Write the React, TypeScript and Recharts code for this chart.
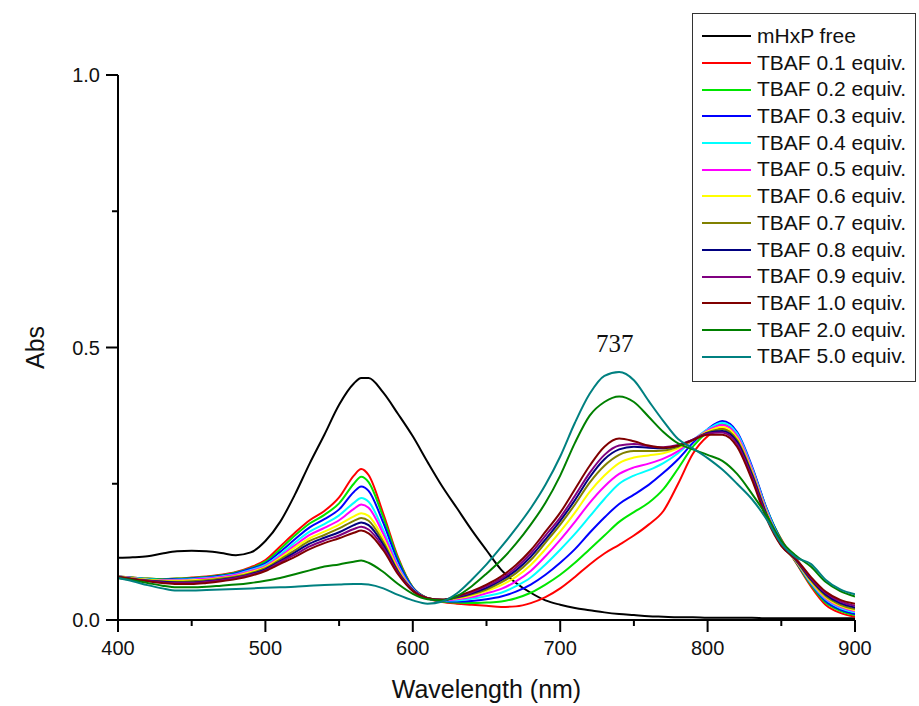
import React from 'react';
import { LineChart, Line, XAxis, YAxis, Legend, ReferenceDot } from 'recharts';

const wavelengths = [400, 410, 420, 430, 440, 450, 460, 470, 480, 490, 500, 510, 520, 530, 540, 550, 560, 565, 570, 580, 590, 600, 610, 620, 630, 640, 650, 660, 670, 680, 690, 700, 710, 720, 730, 740, 750, 760, 770, 780, 790, 800, 810, 820, 830, 840, 850, 860, 870, 880, 890, 900];

const mHxPFree = [0.114, 0.115, 0.117, 0.122, 0.126, 0.127, 0.126, 0.123, 0.119, 0.124, 0.145, 0.180, 0.230, 0.287, 0.340, 0.395, 0.434, 0.444, 0.444, 0.417, 0.378, 0.337, 0.290, 0.245, 0.205, 0.165, 0.128, 0.092, 0.068, 0.050, 0.036, 0.028, 0.022, 0.018, 0.014, 0.011, 0.009, 0.007, 0.006, 0.005, 0.005, 0.004, 0.004, 0.004, 0.004, 0.003, 0.003, 0.003, 0.003, 0.003, 0.003, 0.003];
const tbaf01 = [0.080, 0.078, 0.076, 0.075, 0.076, 0.078, 0.080, 0.083, 0.088, 0.097, 0.110, 0.135, 0.160, 0.183, 0.200, 0.225, 0.265, 0.277, 0.266, 0.195, 0.115, 0.060, 0.040, 0.033, 0.030, 0.028, 0.026, 0.024, 0.025, 0.031, 0.042, 0.058, 0.079, 0.102, 0.122, 0.138, 0.155, 0.175, 0.200, 0.250, 0.305, 0.337, 0.352, 0.335, 0.275, 0.200, 0.148, 0.105, 0.062, 0.028, 0.013, 0.006];
const tbaf02 = [0.080, 0.078, 0.076, 0.075, 0.076, 0.077, 0.079, 0.082, 0.087, 0.095, 0.107, 0.130, 0.155, 0.177, 0.193, 0.214, 0.250, 0.263, 0.253, 0.188, 0.112, 0.060, 0.040, 0.034, 0.032, 0.031, 0.032, 0.034, 0.040, 0.050, 0.065, 0.083, 0.105, 0.130, 0.155, 0.180, 0.198, 0.215, 0.240, 0.278, 0.318, 0.345, 0.360, 0.340, 0.280, 0.205, 0.147, 0.106, 0.065, 0.032, 0.017, 0.009];
const tbaf03 = [0.080, 0.077, 0.075, 0.074, 0.075, 0.076, 0.078, 0.081, 0.086, 0.094, 0.104, 0.125, 0.148, 0.170, 0.185, 0.203, 0.235, 0.245, 0.237, 0.178, 0.107, 0.059, 0.040, 0.035, 0.034, 0.035, 0.038, 0.043, 0.052, 0.065, 0.083, 0.105, 0.130, 0.160, 0.188, 0.213, 0.230, 0.248, 0.270, 0.295, 0.325, 0.350, 0.365, 0.345, 0.283, 0.205, 0.145, 0.107, 0.067, 0.035, 0.019, 0.011];
const tbaf04 = [0.080, 0.077, 0.075, 0.073, 0.074, 0.075, 0.077, 0.080, 0.084, 0.092, 0.101, 0.120, 0.142, 0.162, 0.176, 0.192, 0.215, 0.224, 0.217, 0.165, 0.100, 0.057, 0.040, 0.036, 0.036, 0.039, 0.044, 0.050, 0.062, 0.078, 0.102, 0.129, 0.158, 0.190, 0.222, 0.250, 0.265, 0.275, 0.288, 0.306, 0.330, 0.350, 0.362, 0.342, 0.280, 0.203, 0.143, 0.108, 0.068, 0.038, 0.022, 0.014];
const tbaf05 = [0.080, 0.077, 0.074, 0.073, 0.073, 0.074, 0.076, 0.079, 0.083, 0.090, 0.099, 0.117, 0.137, 0.156, 0.169, 0.183, 0.204, 0.212, 0.206, 0.158, 0.097, 0.056, 0.040, 0.036, 0.038, 0.042, 0.049, 0.057, 0.071, 0.090, 0.117, 0.147, 0.180, 0.215, 0.245, 0.268, 0.280, 0.287, 0.296, 0.310, 0.330, 0.348, 0.358, 0.338, 0.277, 0.200, 0.142, 0.108, 0.070, 0.040, 0.024, 0.016];
const tbaf06 = [0.080, 0.076, 0.074, 0.072, 0.072, 0.073, 0.074, 0.077, 0.081, 0.088, 0.097, 0.114, 0.133, 0.150, 0.162, 0.175, 0.190, 0.196, 0.191, 0.149, 0.093, 0.055, 0.040, 0.037, 0.040, 0.045, 0.053, 0.064, 0.079, 0.101, 0.130, 0.162, 0.197, 0.235, 0.265, 0.288, 0.298, 0.302, 0.306, 0.315, 0.330, 0.346, 0.354, 0.334, 0.273, 0.197, 0.140, 0.108, 0.071, 0.042, 0.026, 0.018];
const tbaf07 = [0.080, 0.076, 0.073, 0.071, 0.070, 0.071, 0.073, 0.076, 0.080, 0.086, 0.095, 0.111, 0.128, 0.145, 0.156, 0.168, 0.182, 0.187, 0.182, 0.143, 0.090, 0.055, 0.040, 0.037, 0.041, 0.047, 0.056, 0.069, 0.086, 0.110, 0.142, 0.175, 0.212, 0.252, 0.283, 0.303, 0.310, 0.310, 0.311, 0.318, 0.330, 0.344, 0.350, 0.330, 0.270, 0.195, 0.139, 0.109, 0.073, 0.044, 0.028, 0.020];
const tbaf08 = [0.079, 0.075, 0.072, 0.070, 0.069, 0.069, 0.071, 0.074, 0.078, 0.084, 0.093, 0.108, 0.124, 0.140, 0.151, 0.161, 0.174, 0.179, 0.174, 0.138, 0.088, 0.055, 0.040, 0.037, 0.042, 0.049, 0.059, 0.073, 0.091, 0.116, 0.148, 0.182, 0.220, 0.262, 0.295, 0.313, 0.318, 0.316, 0.315, 0.320, 0.331, 0.343, 0.347, 0.327, 0.267, 0.193, 0.138, 0.110, 0.075, 0.047, 0.031, 0.023];
const tbaf09 = [0.079, 0.075, 0.072, 0.069, 0.068, 0.068, 0.070, 0.073, 0.077, 0.083, 0.091, 0.106, 0.120, 0.135, 0.146, 0.155, 0.167, 0.171, 0.166, 0.133, 0.086, 0.054, 0.040, 0.037, 0.043, 0.051, 0.062, 0.076, 0.096, 0.122, 0.155, 0.188, 0.228, 0.270, 0.303, 0.320, 0.323, 0.319, 0.317, 0.321, 0.331, 0.342, 0.344, 0.323, 0.263, 0.190, 0.137, 0.111, 0.077, 0.050, 0.034, 0.026];
const tbaf10 = [0.079, 0.075, 0.071, 0.068, 0.066, 0.066, 0.068, 0.071, 0.075, 0.081, 0.090, 0.103, 0.116, 0.130, 0.141, 0.150, 0.160, 0.164, 0.159, 0.128, 0.084, 0.053, 0.040, 0.037, 0.044, 0.053, 0.065, 0.080, 0.101, 0.128, 0.162, 0.197, 0.240, 0.283, 0.318, 0.333, 0.328, 0.320, 0.316, 0.320, 0.330, 0.340, 0.340, 0.318, 0.258, 0.186, 0.136, 0.112, 0.079, 0.052, 0.037, 0.030];
const tbaf20 = [0.077, 0.073, 0.068, 0.063, 0.060, 0.060, 0.061, 0.063, 0.065, 0.068, 0.072, 0.077, 0.084, 0.091, 0.098, 0.102, 0.107, 0.109, 0.105, 0.088, 0.066, 0.048, 0.038, 0.036, 0.044, 0.062, 0.085, 0.110, 0.140, 0.175, 0.215, 0.265, 0.325, 0.375, 0.400, 0.410, 0.400, 0.373, 0.345, 0.324, 0.313, 0.303, 0.292, 0.268, 0.232, 0.192, 0.145, 0.118, 0.098, 0.070, 0.053, 0.043];
const tbaf50 = [0.077, 0.071, 0.064, 0.058, 0.054, 0.054, 0.055, 0.056, 0.057, 0.058, 0.059, 0.060, 0.061, 0.063, 0.064, 0.065, 0.066, 0.066, 0.065, 0.058, 0.046, 0.036, 0.030, 0.034, 0.049, 0.074, 0.102, 0.134, 0.168, 0.205, 0.248, 0.300, 0.362, 0.415, 0.448, 0.455, 0.440, 0.402, 0.365, 0.332, 0.315, 0.297, 0.276, 0.250, 0.222, 0.185, 0.140, 0.115, 0.103, 0.074, 0.056, 0.047];

const seriesNames = ['mHxP free', 'TBAF 0.1 equiv.', 'TBAF 0.2 equiv.', 'TBAF 0.3 equiv.', 'TBAF 0.4 equiv.', 'TBAF 0.5 equiv.', 'TBAF 0.6 equiv.', 'TBAF 0.7 equiv.', 'TBAF 0.8 equiv.', 'TBAF 0.9 equiv.', 'TBAF 1.0 equiv.', 'TBAF 2.0 equiv.', 'TBAF 5.0 equiv.'];
const seriesColors = ['#000000', '#ff0000', '#00e600', '#0000ff', '#00ffff', '#ff00ff', '#ffff00', '#808000', '#000080', '#800080', '#800000', '#008000', '#008080'];
const seriesValues = [mHxPFree, tbaf01, tbaf02, tbaf03, tbaf04, tbaf05, tbaf06, tbaf07, tbaf08, tbaf09, tbaf10, tbaf20, tbaf50];

const xTicks = [400, 450, 500, 550, 600, 650, 700, 750, 800, 850, 900];
const xMajorTicks = [400, 500, 600, 700, 800, 900];
const yTicks = [0, 0.25, 0.5, 0.75, 1];
const yTickLabels: Record<string, string> = { '0': '0.0', '0.5': '0.5', '1': '1.0' };

const annotationWavelength = 737;
const annotationAbs = 0.508;
const annotationText = '737';

const data = wavelengths.map((w, i) => {
  const row: Record<string, number> = { w };
  seriesValues.forEach((s, k) => {
    row['s' + k] = s[i];
  });
  return row;
});

const SANS = '"Liberation Sans", Arial, sans-serif';

const XTick = (props: any) => {
  const { x, y, payload } = props;
  const v = payload.value;
  const major = xMajorTicks.includes(v);
  return (
    <g>
      <line x1={x} x2={x} y1={y} y2={y + (major ? 12 : 6)} stroke="#000" strokeWidth={2} />
      {major && (
        <text x={x} y={y + 35} textAnchor="middle" fontSize={20} fontFamily={SANS} fill="#111">
          {v}
        </text>
      )}
    </g>
  );
};

const YTick = (props: any) => {
  const { x, y, payload } = props;
  const v = payload.value;
  const label = yTickLabels[String(v)];
  return (
    <g>
      <line x1={x - (label ? 12 : 6)} x2={x} y1={y} y2={y} stroke="#000" strokeWidth={2} />
      {label && (
        <text x={x - 18} y={y + 7} textAnchor="end" fontSize={20} fontFamily={SANS} fill="#111">
          {label}
        </text>
      )}
    </g>
  );
};

const LegendBox = () => (
  <div
    style={{
      boxSizing: 'border-box',
      width: 224,
      height: 369,
      border: '1.5px solid #333',
      background: '#fff',
      paddingTop: 9,
      fontFamily: SANS,
    }}
  >
    {seriesNames.map((name, i) => (
      <div key={name} style={{ display: 'flex', alignItems: 'center', height: 26.7 }}>
        <div style={{ width: 49, height: 2, background: seriesColors[i], marginLeft: 9 }} />
        <span style={{ marginLeft: 6, fontSize: 21, color: '#111', whiteSpace: 'nowrap', lineHeight: '26.7px' }}>{name}</span>
      </div>
    ))}
  </div>
);

export default function App() {
  return (
    <div style={{ position: 'absolute', left: 0, top: 0, background: '#fff' }}>
      <LineChart width={919} height={706} data={data} margin={{ top: 75, right: 64, bottom: 26, left: 58 }}>
        <XAxis
          dataKey="w"
          type="number"
          domain={[400, 900]}
          ticks={xTicks}
          interval={0}
          allowDataOverflow
          height={60}
          tickSize={0}
          tickMargin={0}
          tickLine={false}
          axisLine={{ stroke: '#000', strokeWidth: 2 }}
          tick={<XTick />}
          label={{
            content: (p: any) => {
              const vb = p.viewBox;
              return (
                <text x={vb.x + vb.width / 2} y={vb.y + 78} textAnchor="middle" fontSize={25} fontFamily={SANS} fill="#111">
                  Wavelength (nm)
                </text>
              );
            },
          }}
        />
        <YAxis
          type="number"
          domain={[0, 1]}
          ticks={yTicks}
          interval={0}
          allowDataOverflow
          width={60}
          tickSize={0}
          tickMargin={0}
          tickLine={false}
          axisLine={{ stroke: '#000', strokeWidth: 2 }}
          tick={<YTick />}
          label={{
            content: (p: any) => {
              const vb = p.viewBox;
              const cx = vb.x - 14;
              const cy = vb.y + vb.height / 2;
              return (
                <text x={cx} y={cy} transform={`rotate(-90, ${cx}, ${cy})`} textAnchor="middle" fontSize={25} fontFamily={SANS} fill="#111">
                  Abs
                </text>
              );
            },
          }}
        />
        {seriesNames.map((name, k) => (
          <Line
            key={name}
            name={name}
            dataKey={'s' + k}
            type="monotone"
            stroke={seriesColors[k]}
            strokeWidth={2}
            dot={false}
            activeDot={false}
            isAnimationActive={false}
          />
        ))}
        <ReferenceDot
          x={annotationWavelength}
          y={annotationAbs}
          r={0}
          fill="none"
          stroke="none"
          ifOverflow="visible"
          label={{ value: annotationText, position: 'center', fontSize: 25, fontFamily: '"Liberation Serif", "Times New Roman", serif', fill: '#111' }}
        />
        <Legend
          layout="horizontal"
          verticalAlign="middle"
          align="center"
          wrapperStyle={{ position: 'absolute', left: 692, top: 13, width: 224, height: 369 }}
          content={() => <LegendBox />}
        />
      </LineChart>
    </div>
  );
}
